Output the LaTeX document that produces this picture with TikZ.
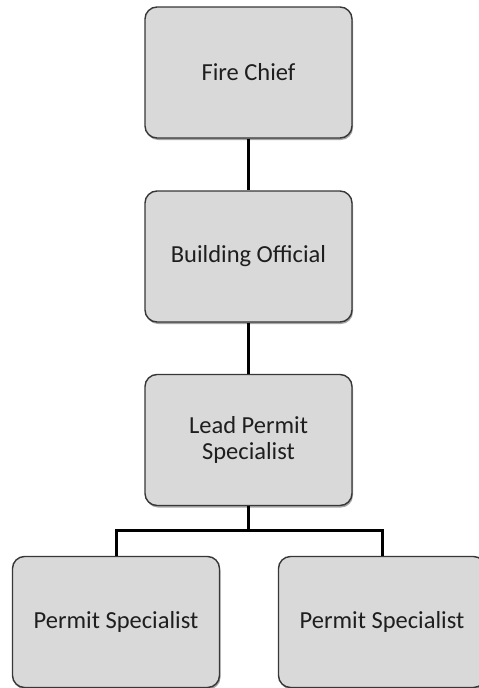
\documentclass[tikz,border=0pt]{standalone}
\usepackage{fontspec}
\setmainfont{Carlito}
\usetikzlibrary{shadows}
\definecolor{boxfill}{RGB}{217,217,217}
\definecolor{boxline}{RGB}{55,55,55}
\definecolor{boxtext}{RGB}{30,30,30}
\begin{document}
\begin{tikzpicture}[x=1pt,y=-1pt,
  role/.style={rectangle, rounded corners=12pt, fill=boxfill, draw=boxline,
    line width=1.4pt, minimum width=207pt, minimum height=131pt,
    align=center, inner sep=0pt, text=boxtext,
    font=\fontsize{24.5}{26.5}\selectfont,
    drop shadow={shadow xshift=1pt, shadow yshift=-2pt, opacity=0.35, fill=black}},
  link/.style={line width=3pt, draw=black}]
  \useasboundingbox (0,0) rectangle (479,688);
  % reporting chain
  \node[role] (chief) at (248.5,72.5) {Fire Chief};
  \node[role] (official) at (248.5,256.5) {Building Official};
  \node[role] (lead) at (248.5,440) {Lead Permit\\Specialist};
  \node[role] (psa) at (116,622) {Permit Specialist};
  \node[role] (psb) at (382,622) {Permit Specialist};
  % connectors
  \draw[link] (chief.south) -- (official.north);
  \draw[link] (official.south) -- (lead.north);
  \coordinate (split) at (248.5,530);
  \draw[link] (lead.south) -- (split);
  \draw[link] (split) -| (psa.north);
  \draw[link] (split) -| (psb.north);
\end{tikzpicture}
\end{document}
